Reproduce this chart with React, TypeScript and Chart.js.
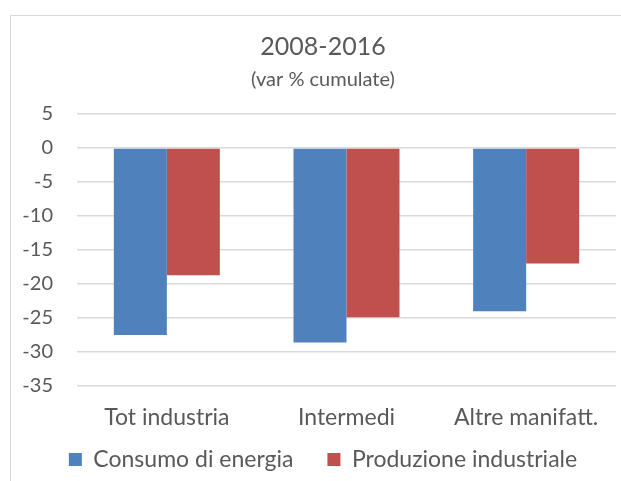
import { useEffect, useRef } from "react";
import { Chart, registerables } from "chart.js";

Chart.register(...registerables);

const titleText = "2008-2016";
const subtitleText = "(var % cumulate)";
const categories = ["Tot industria", "Intermedi", "Altre manifatt."];
const seriesNames = ["Consumo di energia", "Produzione industriale"];
const consumoEnergia = [-27.5, -28.6, -24.0];
const produzioneIndustriale = [-18.7, -24.9, -17.0];
const yMin = -35;
const yMax = 5;
const yStep = 5;

const FONT = "Lato, 'Open Sans', sans-serif";
const TEXT = "#595959";
const GRID = "#d9d9d9";
const PAD_LEFT = 30;

// let axis labels extend beyond their (tightly fitted) boxes
const labelRoomPlugin = {
  id: "labelRoom",
  afterLayout(chart: any) {
    const x = chart.scales.x;
    if (x) x.bottom = x.top + 60;
    const y = chart.scales.y;
    if (y) y.left = 0;
  },
};

export default function App() {
  const ref = useRef<HTMLCanvasElement | null>(null);

  useEffect(() => {
    document.body.style.margin = "0";
    if (!ref.current) return;
    const chart = new Chart(ref.current, {
      type: "bar",
      data: {
        labels: categories,
        datasets: [
          {
            label: seriesNames[0],
            data: consumoEnergia,
            backgroundColor: "#4F81BD",
            borderWidth: 0,
          },
          {
            label: seriesNames[1],
            data: produzioneIndustriale,
            backgroundColor: "#C0504D",
            borderWidth: 0,
          },
        ],
      },
      plugins: [labelRoomPlugin],
      options: {
        animation: false,
        responsive: false,
        maintainAspectRatio: false,
        layout: { padding: { left: PAD_LEFT, right: 5, top: 0, bottom: 0 } },
        datasets: {
          bar: { categoryPercentage: 0.59, barPercentage: 1 },
        },
        plugins: {
          title: {
            display: true,
            text: titleText,
            color: TEXT,
            font: { family: FONT, size: 25, weight: "normal" },
            padding: { top: 32, bottom: 6 },
          },
          subtitle: {
            display: true,
            text: subtitleText,
            color: TEXT,
            font: { family: FONT, size: 20, weight: "normal" },
            padding: { top: 0, bottom: 22 },
          },
          legend: {
            position: "bottom",
            labels: {
              color: TEXT,
              font: { family: FONT, size: 23 },
              boxWidth: 13,
              boxHeight: 13,
              padding: 34,
            },
          },
          tooltip: { enabled: false },
        },
        scales: {
          x: {
            grid: { display: false, drawTicks: false },
            border: { display: false },
            ticks: {
              color: TEXT,
              font: { family: FONT, size: 23 },
              padding: 18,
            },
            afterFit: (scale: any) => {
              scale.height = 28;
            },
          },
          y: {
            min: yMin,
            max: yMax,
            ticks: {
              stepSize: yStep,
              color: TEXT,
              font: { family: FONT, size: 20 },
              padding: 24,
            },
            grid: { color: GRID, lineWidth: 1.5, drawTicks: false },
            border: { display: false },
            afterFit: (scale: any) => {
              scale.width = 77 - PAD_LEFT;
            },
          },
        },
      },
    });
    return () => chart.destroy();
  }, []);

  return (
    <div
      style={{
        position: "fixed",
        left: 0,
        top: 0,
        width: 621,
        height: 481,
        overflow: "hidden",
        background: "#fff",
      }}
    >
      <div
        style={{
          position: "absolute",
          left: 10,
          top: 15,
          width: 700,
          height: 600,
          border: "1px solid #d9d9d9",
        }}
      />
      <canvas
        ref={ref}
        width={621}
        height={481}
        style={{ position: "absolute", left: 0, top: 0, width: 621, height: 481 }}
      />
    </div>
  );
}
